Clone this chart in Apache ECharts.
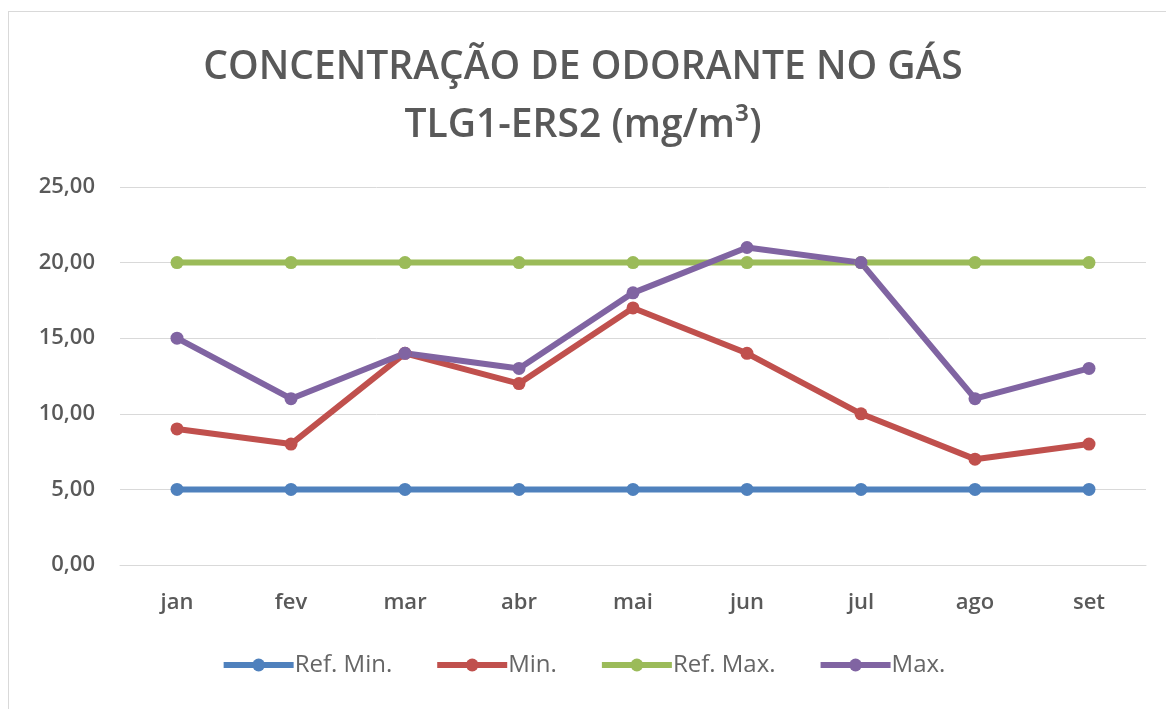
<!DOCTYPE html>
<html>
<head>
<meta charset="utf-8">
<script src="https://cdn.jsdelivr.net/npm/echarts@6/dist/echarts.min.js"></script>
<style>
  html, body { margin: 0; padding: 0; background: #fff; overflow: hidden; }
  #frame { position: absolute; left: 8px; top: 11px; width: 1200px; height: 800px; border: 1px solid #d9d9d9; }
  #chart { position: absolute; left: 0; top: 0; width: 1166px; height: 709px; }
</style>
</head>
<body>
<div id="frame"></div>
<div id="chart"></div>
<script>
// dados do gráfico
const months = ['jan', 'fev', 'mar', 'abr', 'mai', 'jun', 'jul', 'ago', 'set'];
const refMin = [5, 5, 5, 5, 5, 5, 5, 5, 5];
const minVals = [9, 8, 14, 12, 17, 14, 10, 7, 8];
const refMax = [20, 20, 20, 20, 20, 20, 20, 20, 20];
const maxVals = [15, 11, 14, 13, 18, 21, 20, 11, 13];
const seriesNames = ['Ref. Min.', 'Min.', 'Ref. Max.', 'Max.'];
const seriesColors = ['#4F81BD', '#C0504D', '#9BBB59', '#8064A2'];

const FONT = '"Open Sans", sans-serif';
const chart = echarts.init(document.getElementById('chart'));

function lineSeries(name, data, color) {
  return {
    name: name,
    type: 'line',
    data: data,
    symbol: 'circle',
    symbolSize: 13,
    smooth: false,
    animation: false,
    lineStyle: { color: color, width: 6 },
    itemStyle: { color: color }
  };
}

const option = {
  backgroundColor: 'transparent',
  title: {
    text: 'CONCENTRAÇÃO DE ODORANTE NO GÁS\nTLG1-ERS2 (mg/m³)',
    left: 'center',
    top: 34,
    textStyle: {
      fontFamily: FONT,
      fontSize: 39,
      fontWeight: 600,
      color: '#595959',
      lineHeight: 58
    }
  },
  legend: {
    bottom: 27,
    left: 'center',
    itemWidth: 70,
    itemHeight: 16,
    itemGap: 42,
    data: seriesNames,
    lineStyle: { width: 6 },
    textStyle: { fontFamily: FONT, fontSize: 24, color: '#666666', padding: [0, 0, 0, -4] }
  },
  grid: { left: 120, right: 20, top: 187, bottom: 144, containLabel: false },
  xAxis: {
    type: 'category',
    data: months,
    boundaryGap: true,
    axisTick: { show: false },
    axisLine: { lineStyle: { color: '#d9d9d9', width: 1 } },
    axisLabel: { fontFamily: FONT, fontSize: 22, fontWeight: 600, color: '#595959', margin: 27 }
  },
  yAxis: {
    type: 'value',
    min: 0,
    max: 25,
    interval: 5,
    axisLine: { show: false },
    axisTick: { show: false },
    splitLine: { lineStyle: { color: '#d9d9d9', width: 1 } },
    axisLabel: {
      fontFamily: FONT, fontSize: 22, fontWeight: 600, color: '#595959', margin: 25,
      formatter: v => v.toFixed(2).replace('.', ',')
    }
  },
  series: [
    lineSeries(seriesNames[0], refMin, seriesColors[0]),
    lineSeries(seriesNames[1], minVals, seriesColors[1]),
    lineSeries(seriesNames[2], refMax, seriesColors[2]),
    lineSeries(seriesNames[3], maxVals, seriesColors[3])
  ]
};
chart.setOption(option);
</script>
</body>
</html>
